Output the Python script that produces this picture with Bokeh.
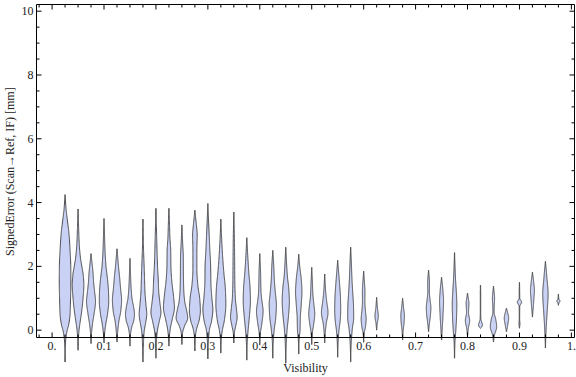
import numpy as np
from bokeh.plotting import figure
from bokeh.models import ColumnDataSource, Range1d
from bokeh.core.properties import value
from bokeh.embed import file_html
from bokeh.resources import INLINE

# ---------------- data ----------------
positions = [0.025, 0.05, 0.075, 0.1, 0.125, 0.15, 0.175, 0.2, 0.225, 0.25,
             0.275, 0.3, 0.325, 0.35, 0.375, 0.4, 0.425, 0.45, 0.475, 0.5,
             0.525, 0.55, 0.575, 0.6, 0.625, 0.675, 0.725, 0.75, 0.775, 0.8,
             0.825, 0.85, 0.875, 0.9, 0.925, 0.95, 0.975]

# density profiles: y levels of each violin and relative half-widths
profile_y = [
    [-1.0, -0.4, -0.05, 0.2, 0.5, 1.0, 1.5, 2.0, 2.5, 3.0, 3.4, 3.8, 4.25],
    [-0.63, -0.3, 0.0, 0.3, 0.6, 1.0, 1.4, 1.7, 2.0, 2.3, 2.7, 3.2, 3.8],
    [-0.42, -0.1, 0.2, 0.5, 0.9, 1.2, 1.5, 1.8, 2.1, 2.4],
    [-0.4, -0.1, 0.2, 0.5, 0.9, 1.2, 1.6, 2.0, 2.5, 3.0, 3.5],
    [-0.37, -0.05, 0.3, 0.6, 0.95, 1.3, 1.7, 2.0, 2.3, 2.55],
    [-0.5, -0.15, 0.1, 0.3, 0.5, 0.75, 1.0, 1.4, 1.8, 2.25],
    [-1.0, -0.5, -0.05, 0.25, 0.5, 0.8, 1.2, 1.6, 2.0, 2.6, 3.48],
    [-0.88, -0.4, -0.05, 0.3, 0.55, 0.85, 1.2, 1.6, 2.0, 2.6, 3.2, 3.82],
    [-0.5, -0.2, 0.05, 0.35, 0.7, 1.1, 1.5, 2.0, 2.5, 2.9, 3.4, 3.82],
    [-0.45, -0.1, 0.12, 0.38, 0.65, 0.9, 1.3, 1.8, 2.3, 2.7, 3.3],
    [-0.65, -0.2, 0.05, 0.3, 0.6, 1.0, 1.4, 1.9, 2.5, 3.0, 3.3, 3.6, 3.76],
    [-0.9, -0.4, 0.0, 0.3, 0.65, 1.0, 1.5, 2.0, 2.5, 3.0, 3.5, 3.97],
    [-0.72, -0.3, 0.0, 0.3, 0.8, 1.3, 1.8, 2.3, 2.8, 3.48],
    [-0.4, -0.1, 0.15, 0.4, 0.7, 1.0, 1.5, 2.2, 3.0, 3.7],
    [-0.94, -0.4, 0.0, 0.4, 0.9, 1.3, 1.8, 2.3, 2.9],
    [-0.47, -0.1, 0.2, 0.6, 0.9, 1.2, 1.8, 2.4],
    [-0.88, -0.4, 0.0, 0.4, 0.8, 1.2, 1.6, 2.0, 2.5],
    [-1.04, -0.5, 0.0, 0.4, 0.9, 1.3, 1.7, 2.1, 2.6],
    [-0.75, -0.3, 0.0, 0.4, 0.8, 1.2, 1.6, 2.0, 2.38],
    [-0.45, -0.1, 0.2, 0.5, 0.8, 1.1, 1.5, 1.97],
    [-0.4, -0.1, 0.2, 0.55, 0.9, 1.2, 1.76],
    [-0.85, -0.4, 0.0, 0.3, 0.6, 1.0, 1.4, 1.8, 2.19],
    [-1.0, -0.5, 0.0, 0.4, 0.8, 1.2, 1.6, 2.1, 2.6],
    [-0.38, -0.1, 0.1, 0.35, 0.6, 0.9, 1.2, 1.5, 1.85],
    [0.0, 0.2, 0.45, 0.7, 1.03],
    [-0.31, 0.0, 0.25, 0.45, 0.7, 1.0],
    [-0.05, 0.2, 0.45, 0.7, 0.95, 1.2, 1.5, 1.88],
    [-0.31, 0.1, 0.5, 0.9, 1.2, 1.66],
    [-0.88, -0.4, 0.0, 0.4, 0.8, 1.2, 1.6, 2.0, 2.43],
    [-0.2, 0.05, 0.3, 0.55, 0.85, 1.0, 1.16],
    [0.06, 0.1, 0.17, 0.25, 0.35, 0.6, 1.2, 1.41],
    [-0.37, -0.15, 0.1, 0.35, 0.55, 0.8, 1.0, 1.2, 1.38],
    [-0.05, 0.15, 0.38, 0.55, 0.69],
    [0.06, 0.2, 0.35, 0.75, 0.88, 1.0, 1.3, 1.5],
    [0.41, 0.7, 1.0, 1.25, 1.5, 1.82],
    [-0.56, -0.2, 0.2, 0.6, 1.15, 1.6, 1.9, 2.16],
    [0.78, 0.85, 0.91, 0.97, 1.13],
]
profile_w = [
    [0, 0.4, 1.8, 3.8, 5.0, 5.5, 5.8, 5.7, 5.0, 4.0, 2.5, 1.0, 0],
    [0, 0.3, 1.0, 2.3, 3.7, 5.0, 5.8, 5.3, 3.8, 2.3, 1.2, 0.6, 0],
    [0, 0.5, 1.5, 3.0, 4.5, 3.6, 2.6, 2.0, 1.0, 0],
    [0, 0.6, 1.8, 3.5, 4.7, 4.5, 3.5, 2.0, 1.0, 0.5, 0],
    [0, 0.7, 2.0, 3.8, 4.6, 3.6, 2.5, 1.5, 0.7, 0],
    [0, 0.5, 1.8, 3.8, 4.5, 3.5, 2.0, 1.0, 0.5, 0],
    [0, 0.4, 1.2, 2.8, 3.8, 3.0, 2.0, 1.6, 1.2, 0.5, 0],
    [0, 0.4, 1.3, 3.5, 5.0, 4.0, 2.8, 2.3, 1.6, 1.0, 0.5, 0],
    [0, 0.5, 1.4, 3.4, 5.5, 4.5, 3.0, 2.0, 1.8, 1.0, 0.5, 0],
    [0, 0.6, 2.5, 5.8, 4.5, 2.8, 1.8, 1.5, 1.4, 0.8, 0],
    [0, 0.5, 1.8, 4.2, 5.5, 4.8, 3.0, 2.0, 2.0, 2.3, 1.5, 0.5, 0],
    [0, 0.4, 1.5, 3.8, 5.0, 4.0, 3.0, 2.8, 2.0, 1.3, 0.6, 0],
    [0, 0.4, 1.5, 3.5, 5.0, 4.5, 3.0, 1.8, 0.9, 0],
    [0, 0.5, 2.0, 3.3, 2.5, 1.5, 1.0, 0.8, 0.5, 0],
    [0, 0.4, 1.3, 2.5, 3.6, 3.3, 2.0, 1.0, 0],
    [0, 0.6, 2.0, 3.3, 2.2, 1.2, 0.8, 0],
    [0, 0.4, 1.4, 3.0, 3.6, 2.5, 1.5, 1.0, 0],
    [0, 0.4, 1.3, 2.6, 3.6, 3.0, 1.6, 0.8, 0],
    [0, 0.4, 1.3, 1.6, 2.5, 3.2, 2.5, 1.0, 0],
    [0, 0.6, 2.0, 3.0, 2.2, 1.2, 0.7, 0],
    [0, 0.5, 1.5, 3.3, 2.0, 1.0, 0],
    [0, 0.4, 1.3, 2.5, 3.0, 2.8, 2.0, 1.0, 0],
    [0, 0.4, 1.5, 3.0, 2.8, 2.0, 1.3, 0.7, 0],
    [0, 0.5, 1.8, 2.5, 1.8, 1.2, 1.3, 0.8, 0],
    [0, 0.6, 1.7, 0.8, 0],
    [0, 0.6, 1.5, 1.8, 1.0, 0],
    [0, 0.8, 1.8, 2.3, 1.5, 0.8, 0.9, 0],
    [0, 0.8, 1.5, 2.0, 1.5, 0],
    [0, 0.4, 1.3, 2.0, 2.3, 1.8, 1.0, 0.5, 0],
    [0, 0.8, 2.2, 1.0, 1.4, 0.8, 0],
    [0, 1.2, 2.0, 1.2, 0.4, 0.2, 0.2, 0],
    [0, 1.0, 3.2, 2.2, 0.6, 0.8, 1.1, 0.6, 0],
    [0, 1.2, 2.2, 1.2, 0],
    [0, 0.5, 0.2, 0.3, 2.2, 0.3, 0.2, 0],
    [0, 0.8, 1.5, 2.0, 1.3, 0],
    [0, 0.4, 1.0, 1.8, 2.7, 1.6, 0.8, 0],
    [0, 0.5, 1.6, 0.5, 0],
]

x_ticks = [0.0, 0.1, 0.2, 0.3, 0.4, 0.5, 0.6, 0.7, 0.8, 0.9, 1.0]
x_tick_labels = ["0.", "0.1", "0.2", "0.3", "0.4", "0.5", "0.6", "0.7", "0.8", "0.9", "1."]
x_minor_ticks = [round(0.025 * k, 3) for k in range(-1, 41) if k % 4 != 0]
y_ticks = [0, 2, 4, 6, 8, 10]
y_tick_labels = ["0", "2", "4", "6", "8", "10"]
y_minor_ticks = [0.5 * k for k in range(0, 21) if k % 4 != 0]
x_label = "Visibility"
y_label = "SignedError (Scan\u2192Ref, IF) [mm]"

# visible frame limits (data) and its place on the canvas (pixels)
XLO, XHI, YLO, YHI = -0.03, 1.006, -0.23, 10.21
W, H = 576, 377
F_LEFT, F_RIGHT, F_TOP, F_BOTTOM = 36, 574, 4, 337

# ---------------- helpers ----------------
def pchip(xk, yk, xs):
    xk = np.asarray(xk, float); yk = np.asarray(yk, float)
    h = np.diff(xk); delta = np.diff(yk) / h
    n = len(xk); d = np.zeros(n)
    for k in range(1, n - 1):
        if delta[k - 1] * delta[k] > 0:
            w1 = 2 * h[k] + h[k - 1]; w2 = h[k] + 2 * h[k - 1]
            d[k] = (w1 + w2) / (w1 / delta[k - 1] + w2 / delta[k])
    d[0] = delta[0]; d[-1] = delta[-1]
    idx = np.clip(np.searchsorted(xk, xs) - 1, 0, n - 2)
    t = (xs - xk[idx]) / h[idx]
    h00 = 2 * t**3 - 3 * t**2 + 1; h10 = t**3 - 2 * t**2 + t
    h01 = -2 * t**3 + 3 * t**2; h11 = t**3 - t**2
    out = h00 * yk[idx] + h10 * h[idx] * d[idx] + h01 * yk[idx + 1] + h11 * h[idx] * d[idx + 1]
    return np.maximum(out, 0.0)

xs_px = (F_RIGHT - F_LEFT) / (XHI - XLO)
ys_px = (F_BOTTOM - F_TOP) / (YHI - YLO)
x_start = XLO - F_LEFT / xs_px
x_end = XHI + (W - F_RIGHT) / xs_px
y_end = YHI + F_TOP / ys_px
y_start = YLO - (H - F_BOTTOM) / ys_px

WSCALE = 1.0 / 519.0  # relative width -> x data units

xs_all, ys_all = [], []
for xc, yk, wk in zip(positions, profile_y, profile_w):
    yy = np.linspace(yk[0], yk[-1], 160)
    ww = pchip(yk, wk, yy) * WSCALE
    ww = np.maximum(ww, 0.12 * WSCALE)
    ww[0] = 0; ww[-1] = 0
    xs_all.append(list(np.concatenate([xc - ww, (xc + ww)[::-1]])))
    ys_all.append(list(np.concatenate([yy, yy[::-1]])))

# ---------------- figure ----------------
FONT = value("Liberation Serif")
FS = value("12px")
TXT = "#222222"

p = figure(width=W, height=H,
           x_range=Range1d(x_start, x_end), y_range=Range1d(y_start, y_end),
           output_backend="svg", toolbar_location=None,
           min_border_left=0, min_border_right=0, min_border_top=0, min_border_bottom=0)
p.xaxis.visible = False
p.yaxis.visible = False
p.xgrid.visible = False
p.ygrid.visible = False
p.outline_line_color = None
p.background_fill_color = "white"
p.border_fill_color = "white"

# tick labels and axis labels
p.text(x=x_ticks, y=[YLO] * len(x_ticks), text=x_tick_labels, y_offset=4,
       text_align="center", text_baseline="top", text_font=FONT, text_font_size=FS, text_color=TXT)
p.text(x=[XLO] * len(y_ticks), y=y_ticks, text=y_tick_labels, x_offset=-3,
       text_align="right", text_baseline="middle", text_font=FONT, text_font_size=FS, text_color=TXT)
p.text(x=[0.488], y=[YLO], text=[x_label], y_offset=23,
       text_align="center", text_baseline="top", text_font=FONT, text_font_size=FS, text_color=TXT)
p.text(x=[XLO], y=[4.97], text=[y_label], x_offset=-27, angle=np.pi / 2,
       text_align="center", text_baseline="middle", text_font=FONT, text_font_size=FS, text_color=TXT)

# violins
src = ColumnDataSource(dict(xs=xs_all, ys=ys_all))
p.patches("xs", "ys", source=src, fill_color="#c9d1f5", fill_alpha=1.0,
          line_color="#3c3c3c", line_width=1, line_alpha=0.9)

# frame
p.quad(left=[XLO], right=[XHI], bottom=[YLO], top=[YHI], fill_color=None,
       line_color="black", line_width=1)

# ticks (inward, on all four sides)
def ticks(xv, yv, length, angle):
    p.ray(x=xv, y=yv, length=length, length_units="screen", angle=angle,
          line_color="black", line_width=1)

ticks(x_ticks, [YLO] * len(x_ticks), 5, np.pi / 2)
ticks(x_minor_ticks, [YLO] * len(x_minor_ticks), 3, np.pi / 2)
ticks(x_ticks, [YHI] * len(x_ticks), 5, -np.pi / 2)
ticks(x_minor_ticks, [YHI] * len(x_minor_ticks), 3, -np.pi / 2)
ticks([XLO] * len(y_ticks), y_ticks, 5, 0.0)
ticks([XLO] * len(y_minor_ticks), y_minor_ticks, 3, 0.0)
ticks([XHI] * len(y_ticks), y_ticks, 5, np.pi)
ticks([XHI] * len(y_minor_ticks), y_minor_ticks, 3, np.pi)

open("out.html", "w").write(file_html(p, INLINE))
